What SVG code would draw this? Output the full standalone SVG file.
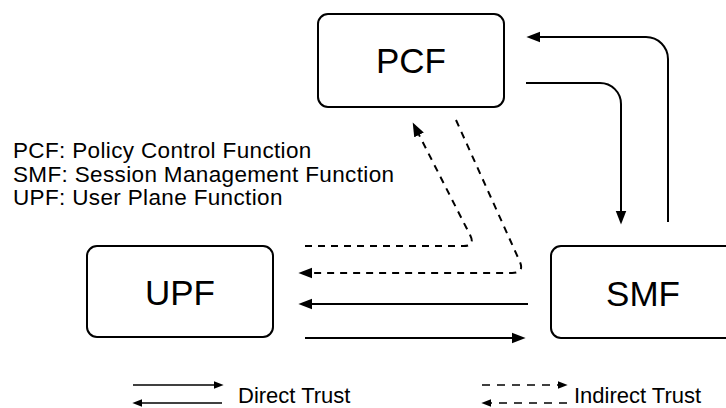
<svg xmlns="http://www.w3.org/2000/svg" width="726" height="408" viewBox="0 0 726 408">
  <style>
    .box { fill: #ffffff; stroke: #000000; stroke-width: 2; }
    .label { font-family: "Liberation Sans", Arial, sans-serif; font-size: 35px; fill: #000000; text-anchor: middle; }
    .note { font-family: "Liberation Sans", Arial, sans-serif; font-size: 22.5px; letter-spacing: 0.35px; fill: #000000; }
    .key { font-family: "Liberation Sans", Arial, sans-serif; font-size: 22px; fill: #000000; }
    .solid { fill: none; stroke: #000000; stroke-width: 2; marker-end: url(#head); }
    .dashed { fill: none; stroke: #000000; stroke-width: 2; stroke-dasharray: 7 6; marker-end: url(#head); }
    .keySolid { fill: none; stroke: #000000; stroke-width: 1.7; marker-end: url(#headSm); }
    .keyDashed { fill: none; stroke: #000000; stroke-width: 1.7; stroke-dasharray: 8 7; marker-end: url(#headSm); }
  </style>
  <defs>
    <marker id="head" markerUnits="userSpaceOnUse" markerWidth="14" markerHeight="12" viewBox="0 0 13 10" refX="5" refY="5" orient="auto">
      <path d="M0,0 L13,5 L0,10 Z" fill="#000000"/>
    </marker>
    <marker id="headSm" markerUnits="userSpaceOnUse" markerWidth="10" markerHeight="8" viewBox="0 0 9 7" refX="3" refY="3.5" orient="auto">
      <path d="M0,0 L9,3.5 L0,7 Z" fill="#000000"/>
    </marker>
  </defs>

  <!-- abbreviations -->
  <g id="abbreviations">
    <text class="note" x="13" y="158">PCF: Policy Control Function</text>
    <text class="note" x="13" y="182">SMF: Session Management Function</text>
    <text class="note" x="13" y="205">UPF: User Plane Function</text>
  </g>

  <!-- network functions -->
  <g id="pcf">
    <rect class="box" x="318" y="14" width="186" height="93" rx="10"/>
    <text class="label" x="411" y="73">PCF</text>
  </g>
  <g id="upf">
    <rect class="box" x="87" y="246" width="186" height="91" rx="10"/>
    <text class="label" x="180" y="305">UPF</text>
  </g>
  <g id="smf">
    <rect class="box" x="551" y="246" width="186" height="92" rx="10"/>
    <text class="label" x="643" y="306">SMF</text>
  </g>

  <!-- trust relations -->
  <g id="connectors">
    <path class="solid" d="M668,222 V59 A22,22 0 0 0 646,37 H535"/>
    <path class="solid" d="M526,83 H600 A21,21 0 0 1 621,104 V216"/>
    <path class="dashed" d="M305,246 H463.6 Q475.6,246 470.2,235.3 L416.6,130.1"/>
    <path class="dashed" d="M456,120 L519.6,261.1 Q524.9,273 512,273 H307"/>
    <path class="solid" d="M528,304 H307"/>
    <path class="solid" d="M305,338 H517"/>
  </g>

  <!-- key -->
  <g id="legend">
    <path class="keySolid" d="M133,385 H217"/>
    <path class="keySolid" d="M222,403 H139"/>
    <text class="key" x="238" y="403">Direct Trust</text>
    <path class="keyDashed" d="M482,385 H561"/>
    <path class="keyDashed" d="M567,403 H488"/>
    <text class="key" x="574" y="403">Indirect Trust</text>
  </g>
</svg>
